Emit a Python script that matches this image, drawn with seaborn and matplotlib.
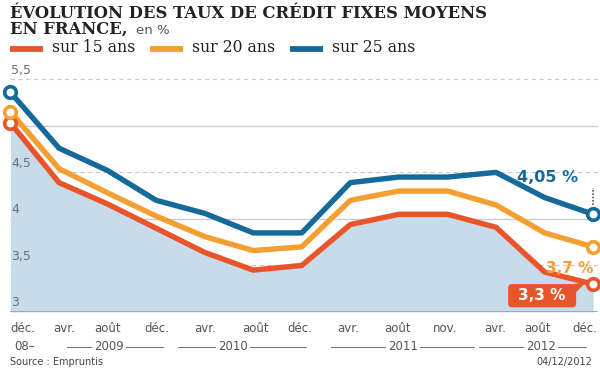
import numpy as np
import pandas as pd
import matplotlib
matplotlib.use("Agg")
import matplotlib.pyplot as plt
import matplotlib.transforms as mtransforms
from matplotlib.patches import FancyBboxPatch
import seaborn as sns

# données (taux moyens, en %)
mois = ["déc.", "avr.", "août", "déc.", "avr.", "août", "déc.",
        "avr.", "août", "nov.", "avr.", "août", "déc."]
mois_pos = [0, 1.1, 2.0, 3.02, 4.0, 5.04, 5.96, 6.95, 7.98, 8.95, 9.98, 10.85, 12.08]
annees = ["2009", "2010", "2011", "2012"]
annee_pos = [2.03, 4.58, 8.08, 10.93]
annee_span = [(1.17, 3.15), (3.45, 6.08), (6.6, 9.55), (9.65, 11.85)]
taux_15 = [5.03, 4.39, 4.16, 3.90, 3.64, 3.45, 3.50, 3.94, 4.05, 4.05, 3.91, 3.43, 3.30]
taux_20 = [5.15, 4.54, 4.28, 4.03, 3.81, 3.66, 3.70, 4.20, 4.30, 4.30, 4.15, 3.85, 3.70]
taux_25 = [5.36, 4.76, 4.52, 4.20, 4.06, 3.85, 3.85, 4.39, 4.45, 4.45, 4.50, 4.23, 4.05]
series = ["sur 15 ans", "sur 20 ans", "sur 25 ans"]
couleurs = ["#e9552b", "#f4a030", "#15699b"]

x = np.arange(len(mois))
df = pd.DataFrame({
    "x": np.tile(x, 3),
    "taux": taux_15 + taux_20 + taux_25,
    "serie": np.repeat(series, len(x)),
})

sns.set_style("white")
plt.rcParams["font.family"] = ["DejaVu Sans"]

fig = plt.figure(figsize=(6, 3.72), dpi=100)
ax = fig.add_axes([10 / 600, 1 - 312 / 372, 588 / 600, 242 / 372])
ax.set_xlim(-0.01, 12.1)
ax.set_ylim(3, 5.6)

# zone colorée sous la courbe 15 ans
ax.fill_between(x, taux_15, 3, color="#c7dbeb", lw=0, zorder=1)

# grille
for v in [3.5, 4.5, 5.5]:
    ax.axhline(v, color="#c4c9cf", lw=0.8, ls=(0, (4, 3)), zorder=0.5)
for v in [4, 5]:
    ax.axhline(v, color="#c9cdd2", lw=1.0, zorder=0.5)
ax.axhline(3, color="#9aa3ad", lw=2.0, zorder=2)

sns.lineplot(data=df, x="x", y="taux", hue="serie", hue_order=series[::-1],
             palette=dict(zip(series, couleurs)), lw=3.9, sort=False,
             legend=False, ax=ax, zorder=3)
for ln in ax.lines[-3:]:
    ln.set_solid_joinstyle("round")

for vals, c in zip([taux_15, taux_20, taux_25], couleurs):
    ax.scatter([x[0], x[-1]], [vals[0], vals[-1]], s=70, facecolor="white",
               edgecolor=c, linewidth=2.6, zorder=5, clip_on=False)

# étiquettes de l'axe y dans la zone de tracé
for v, lab in zip([5.5, 4.5, 4, 3.5, 3], ["5,5", "4,5", "4", "3,5", "3"]):
    ax.text(0.02, v + 0.03, lab, fontsize=9, color="#6b6f73", va="bottom", ha="left", zorder=4)

for s in ax.spines.values():
    s.set_visible(False)
ax.set_xticks([])
ax.set_yticks([])
ax.set_xlabel("")
ax.set_ylabel("")

# axe des temps : mois puis années
trans = mtransforms.blended_transform_factory(ax.transData, fig.transFigure)
for i, (p, m) in enumerate(zip(mois_pos, mois)):
    ha = "left" if i == 0 else ("right" if i == len(mois) - 1 else "center")
    ax.text(p, 1 - 329 / 372, m, transform=trans, fontsize=8.5, color="#555555",
            ha=ha, va="center")
ax.text(0.08, 1 - 347 / 372, "08–", transform=trans, fontsize=8.5, color="#555555",
        ha="left", va="center")
for p, a, (x0, x1) in zip(annee_pos, annees, annee_span):
    ax.plot([x0, x1], [1 - 347 / 372] * 2, transform=trans, color="#777777", lw=0.8,
            clip_on=False)
    ax.text(p, 1 - 347 / 372, a, transform=trans, fontsize=8.5, color="#555555",
            ha="center", va="center",
            bbox=dict(boxstyle="square,pad=0.15", fc="white", ec="none"))

# annotations des dernières valeurs
ax.text(11.69, 4.44, "4,05 %", fontsize=11.5, fontweight="bold",
        color=couleurs[2], ha="right", va="center", zorder=6)
ax.plot([11.99, 11.99], [4.15, 4.33], color="#555555", lw=1.2, ls=(0, (1, 1)), zorder=6)
ax.text(12.0, 3.47, "3,7 %", fontsize=11, fontweight="bold",
        color=couleurs[1], ha="right", va="center", zorder=6)
box = FancyBboxPatch((10.25, 3.05), 1.40, 0.25, boxstyle="round,pad=0.0,rounding_size=0.08",
                     fc=couleurs[0], ec="none", zorder=6, mutation_aspect=0.5)
ax.add_patch(box)
ax.fill([11.6, 11.86, 11.6], [3.30, 3.32, 3.19], color=couleurs[0], lw=0, zorder=6)
ax.text(10.93, 3.175, "3,3 %", fontsize=11, fontweight="bold", color="white",
        ha="center", va="center", zorder=7)

# titre
fig.text(10 / 600, 1 - 18.5 / 372, "ÉVOLUTION DES TAUX DE CRÉDIT FIXES MOYENS",
         fontsize=11.8, fontweight="bold", family="DejaVu Serif", color="#222222",
         ha="left", va="baseline")
fig.text(10 / 600, 1 - 34 / 372, "EN FRANCE,", fontsize=11.8, fontweight="bold",
         family="DejaVu Serif", color="#222222", ha="left", va="baseline")
fig.text(136 / 600, 1 - 34 / 372, "en %", fontsize=9.5, color="#555555",
         ha="left", va="baseline")

# légende
leg_x = [10, 150, 290]
for lx, c, lab in zip(leg_x, couleurs, series):
    fig.add_artist(plt.Line2D([lx / 600, (lx + 33) / 600], [1 - 49 / 372] * 2,
                              color=c, lw=4.2, solid_capstyle="butt",
                              transform=fig.transFigure))
    fig.text((lx + 42) / 600, 1 - 48 / 372, lab, fontsize=11.3, family="DejaVu Serif",
             color="#222222", ha="left", va="center")

fig.text(10 / 600, 1 - 362 / 372, "Source : Empruntis", fontsize=7, color="#444444",
         ha="left", va="center")
fig.text(592 / 600, 1 - 362 / 372, "04/12/2012", fontsize=7, color="#444444",
         ha="right", va="center")

fig.savefig("out.png", dpi=100)
